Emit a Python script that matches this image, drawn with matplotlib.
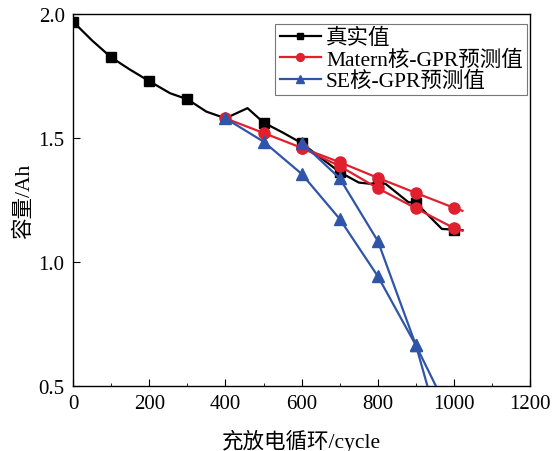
import matplotlib
matplotlib.use("Agg")
import matplotlib.pyplot as plt
from matplotlib.ticker import MultipleLocator

plt.rcParams['font.family'] = ['Liberation Serif', 'Noto Sans CJK SC']
plt.rcParams['axes.unicode_minus'] = False

# true capacity curve (line vertices) and which vertices carry a marker
true_x = [0, 50, 100, 150, 200, 255, 300, 350, 400, 458, 500, 550, 600, 650, 700,
          750, 780, 800, 820, 880, 900, 968, 1000, 1022]
true_y = [1.969, 1.893, 1.825, 1.775, 1.729, 1.680, 1.656, 1.606, 1.579, 1.620, 1.562,
          1.522, 1.479, 1.420, 1.362, 1.320, 1.315, 1.319, 1.315, 1.241, 1.238, 1.133,
          1.130, 1.128]
true_marks = [0, 2, 4, 6, 10, 12, 14, 17, 20, 22]

# Matern kernel GPR predictions (two forecast runs)
mat1_x = [400, 500, 600, 700, 800, 900, 1000, 1022]
mat1_y = [1.579, 1.520, 1.460, 1.402, 1.339, 1.278, 1.218, 1.206]
mat2_x = [600, 700, 800, 900, 1000, 1022]
mat2_y = [1.460, 1.386, 1.297, 1.216, 1.136, 1.126]

# SE kernel GPR predictions (two forecast runs)
se1_x = [400, 500, 600, 700, 800, 900, 1000]
se1_y = [1.579, 1.485, 1.355, 1.173, 0.942, 0.663, 0.35]
se2_x = [600, 700, 800, 900, 1000]
se2_y = [1.481, 1.337, 1.084, 0.663, 0.12]

red = '#e0202e'
blue = '#2f55a8'

fig = plt.figure(figsize=(5.55, 4.52), dpi=100)
ax = fig.add_axes([0.1315, 0.144, 0.824, 0.823])

ax.plot(true_x, true_y, color='black', lw=1.6, marker='s', ms=6.5,
        markevery=true_marks, label='真实值', zorder=3)
ax.plot(mat1_x, mat1_y, color=red, lw=1.6, marker='o', ms=8,
        markevery=list(range(7)), label='Matern核-GPR预测值', zorder=4)
ax.plot(mat2_x, mat2_y, color=red, lw=1.6, marker='o', ms=8,
        markevery=list(range(5)), zorder=4)
ax.plot(se1_x, se1_y, color=blue, lw=1.6, marker='^', ms=8,
        label='SE核-GPR预测值', zorder=5)
ax.plot(se2_x, se2_y, color=blue, lw=1.6, marker='^', ms=8, zorder=5)

ax.set_xlim(0, 1200)
ax.set_ylim(0.5, 2.0)
ax.xaxis.set_major_locator(MultipleLocator(200))
ax.xaxis.set_minor_locator(MultipleLocator(100))
ax.yaxis.set_major_locator(MultipleLocator(0.5))
ax.yaxis.set_major_formatter(matplotlib.ticker.FormatStrFormatter('%.1f'))
ax.tick_params(which='both', direction='in', labelsize=15)
ax.tick_params(which='major', length=5, pad=6)
ax.tick_params(which='minor', length=2.5)
for s in ax.spines.values():
    s.set_linewidth(1.0)

ax.set_xlabel('充放电循环/cycle', fontsize=15.5, labelpad=11)
ax.set_ylabel('容量/Ah', fontsize=15.5, labelpad=3)

leg = ax.legend(loc='upper right', bbox_to_anchor=(0.993, 0.973), borderaxespad=0,
                fontsize=15.5, frameon=True, fancybox=False,
                edgecolor='#555555', handlelength=1.9, borderpad=0.2,
                labelspacing=0.05, handletextpad=0.25, markerscale=0.7)
leg.get_frame().set_linewidth(0.8)

fig.savefig('out.png', dpi=100)
